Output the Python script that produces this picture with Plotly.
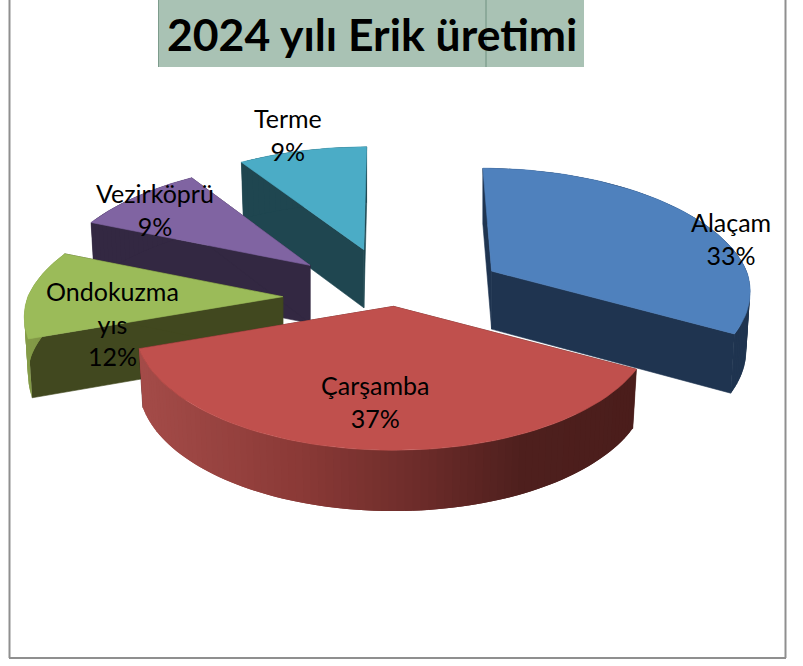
import math
import plotly.graph_objects as go

title = "2024 yılı Erik üretimi"
categories = ["Alaçam", "Çarşamba", "Ondokuzmayıs", "Vezirköprü", "Terme"]
display_names = ["Alaçam", "Çarşamba", "Ondokuzma<br>yıs", "Vezirköprü", "Terme"]
values = [33.0, 36.6, 11.6, 9.4, 9.4]
pulls = [0.44, 0.07, 0.44, 0.43, 0.42]
top_colors = ["#4f81bd", "#c0504d", "#9bbb59", "#8064a2", "#4bacc6"]
wall_colors = ["#1f3450", "#4c1f1c", "#41481f", "#332842", "#1f4650"]
draw_order = [4, 3, 2, 0, 1]
label_xy = [(731, 238), (375, 401), (112, 323.5), (155, 209.5), (288, 134.5)]

W, H = 803, 666
CX, CY, A, B, K = 395, 298, 255, 120, 0.166
DEPTH, BX, BY, LEAN = 58, 0.985, 1.02, 0.09
total = sum(values)


def hex_rgb(c):
    return tuple(int(c[i:i + 2], 16) for i in (1, 3, 5))


def lerp(stops, t):
    for (t0, c0), (t1, c1) in zip(stops, stops[1:]):
        if t <= t1:
            f = (t - t0) / (t1 - t0) if t1 > t0 else 0
            a, b = hex_rgb(c0), hex_rgb(c1)
            return "rgb(%d,%d,%d)" % tuple(a[i] + (b[i] - a[i]) * f for i in range(3))
    return stops[-1][1]


# screen x based shading of the outer rim
rim_stops = {
    1: [(130, "#a64d4a"), (300, "#8b3a37"), (430, "#6a2b29"), (520, "#4f201e"), (660, "#4a1d1b")],
    2: [(0, "#8fa84e"), (40, "#7f9545")],
}

fig = go.Figure()


def poly(xs, ys, color, width=0.6):
    fig.add_trace(go.Scatter(x=xs, y=ys, mode="lines", fill="toself", fillcolor=color,
                             line=dict(color=color, width=width), hoverinfo="skip", showlegend=False))


angles = []
acc = 0
for v in values:
    angles.append((acc / total * 2 * math.pi, (acc + v) / total * 2 * math.pi))
    acc += v

for i in draw_order:
    a0, a1 = angles[i]
    m = (a0 + a1) / 2
    ax = CX + A * pulls[i] * math.sin(m)
    ay = CY - B * pulls[i] * math.cos(m)

    def top(th):
        u, v = math.sin(th), math.cos(th)
        w = 1 + K * v
        return ax + A * u / w - (ax - CX) * LEAN * max(v, 0), ay - B * v / w

    def bottom(th):
        u, v = math.sin(th), math.cos(th)
        w = 1 + K * v
        return ax + BX * A * u / w - (ax - CX) * LEAN * max(v, 0), ay + DEPTH - BY * B * v / w

    n = max(8, int(values[i] * 2.4))
    ths = [a0 + (a1 - a0) * j / n for j in range(n + 1)]
    apex_bottom = (ax, ay + DEPTH)

    for th in (a0, a1):
        pt, pb = top(th), bottom(th)
        poly([ax, pt[0], pb[0], apex_bottom[0], ax], [ay, pt[1], pb[1], apex_bottom[1], ay], wall_colors[i])

    # each rim strip overlaps the next one, so no seams show between strips
    for j in range(n):
        sub = ths[j:j + 3]
        c_pts = [top(t) for t in sub]
        d_pts = [bottom(t) for t in reversed(sub)]
        mid_x = (top(ths[j])[0] + top(ths[j + 1])[0]) / 2
        c = lerp(rim_stops[i], mid_x) if i in rim_stops else wall_colors[i]
        ring = c_pts + d_pts + [c_pts[0]]
        poly([p[0] for p in ring], [p[1] for p in ring], c, width=0)

    pts = [top(t) for t in [a0 + (a1 - a0) * j / 60 for j in range(61)]]
    poly([ax] + [p[0] for p in pts] + [ax], [ay] + [p[1] for p in pts] + [ay], top_colors[i])

annotations = [dict(x=371.5, y=33.5, text="<b>%s</b>" % title, showarrow=False, xref="x", yref="y",
                    font=dict(family="Lato", size=44.5, color="#000000"))]
for name, val, (lx, ly) in zip(display_names, values, label_xy):
    annotations.append(dict(x=lx, y=ly, xref="x", yref="y", showarrow=False,
                            text="%s<br>%d%%" % (name, round(val / total * 100)),
                            font=dict(family="Lato", size=25, color="#000000")))

shapes = [
    dict(type="rect", xref="x", yref="y", x0=158, x1=584, y0=0, y1=67, fillcolor="#a9c2b4", line_width=0, layer="below"),
    dict(type="line", xref="x", yref="y", x0=486, x1=486, y0=0, y1=67, line=dict(color="#6f9180", width=1), layer="below"),
    dict(type="line", xref="x", yref="y", x0=158.5, x1=158.5, y0=0, y1=67, line=dict(color="#7d9c8c", width=1), layer="below"),
    dict(type="line", xref="x", yref="y", x0=9.5, x1=9.5, y0=0, y1=658, line=dict(color="#8f8f8f", width=2), layer="below"),
    dict(type="line", xref="x", yref="y", x0=785.5, x1=785.5, y0=0, y1=658, line=dict(color="#8f8f8f", width=2), layer="below"),
    dict(type="line", xref="x", yref="y", x0=9, x1=786, y0=658, y1=658, line=dict(color="#8f8f8f", width=2), layer="below"),
]

fig.update_layout(
    width=W, height=H, margin=dict(l=0, r=0, t=0, b=0), showlegend=False,
    paper_bgcolor="white", plot_bgcolor="white", annotations=annotations, shapes=shapes,
    xaxis=dict(range=[0, W], visible=False, fixedrange=True),
    yaxis=dict(range=[H, 0], visible=False, fixedrange=True),
)
fig.write_html("out.html", config={"displayModeBar": False},
               post_script="document.body.style.margin='0';document.body.style.overflow='hidden';")
